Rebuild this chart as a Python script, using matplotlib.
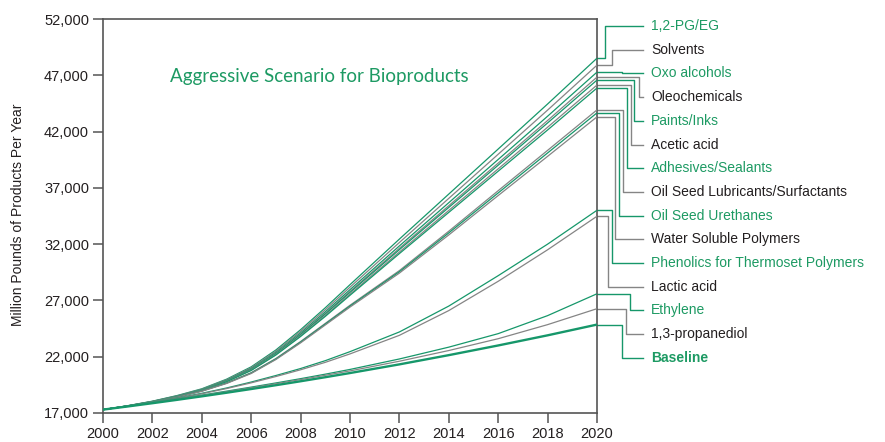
import matplotlib
matplotlib.use("Agg")
import matplotlib.pyplot as plt

years = [2000, 2001, 2002, 2003, 2004, 2005, 2006, 2007, 2008, 2009, 2010, 2012, 2014, 2016, 2018, 2020]

pg_eg = [17300, 17650, 18050, 18550, 19150, 20000, 21100, 22600, 24400, 26350, 28400, 32450, 36450, 40450, 44450, 48519]
solvents = [17300, 17643, 18035, 18525, 19113, 19946, 21024, 22494, 24258, 26169, 28178, 32147, 36067, 39987, 43907, 47900]
oxo = [17300, 17636, 18020, 18500, 19076, 19892, 20948, 22388, 24116, 25988, 27956, 31844, 35684, 39524, 43364, 47282]
oleo = [17300, 17631, 18010, 18483, 19050, 19854, 20895, 22314, 24017, 25861, 27801, 31632, 35416, 39200, 42984, 46840]
paints = [17300, 17628, 18004, 18473, 19035, 19833, 20864, 22271, 23960, 25789, 27712, 31511, 35263, 39015, 42767, 46575]
acetic = [17300, 17623, 17993, 18455, 19009, 19795, 20811, 22197, 23860, 25662, 27556, 31299, 34995, 38691, 42387, 46134]
adhesives = [17300, 17620, 17986, 18444, 18993, 19771, 20777, 22150, 23797, 25581, 27457, 31162, 34822, 38482, 42142, 45869]
lubricants = [17300, 17610, 17990, 18430, 18970, 19670, 20580, 21840, 23350, 24960, 26570, 29650, 33150, 36750, 40330, 43927]
urethanes = [17300, 17610, 17980, 18420, 18950, 19650, 20550, 21800, 23300, 24900, 26500, 29550, 33000, 36550, 40100, 43662]
water_sol = [17300, 17600, 17970, 18400, 18930, 19620, 20510, 21750, 23230, 24820, 26410, 29430, 32820, 36320, 39800, 43309]
phenolics = [17300, 17620, 17960, 18330, 18750, 19220, 19750, 20330, 20950, 21650, 22450, 24200, 26500, 29200, 32000, 35009]
lactic = [17300, 17610, 17940, 18300, 18710, 19170, 19680, 20240, 20840, 21500, 22250, 23900, 26100, 28700, 31500, 34479]
ethylene = [17300, 17600, 17920, 18250, 18590, 18940, 19300, 19670, 20050, 20450, 20870, 21800, 22850, 24050, 25650, 27592]
propanediol = [17300, 17590, 17900, 18220, 18550, 18890, 19240, 19600, 19970, 20350, 20740, 21600, 22550, 23600, 24850, 26267]
baseline = [17300, 17580, 17870, 18170, 18480, 18800, 19130, 19470, 19820, 20180, 20550, 21320, 22140, 23000, 23900, 24855]

names = ["1,2-PG/EG", "Solvents", "Oxo alcohols", "Oleochemicals", "Paints/Inks", "Acetic acid",
         "Adhesives/Sealants", "Oil Seed Lubricants/Surfactants", "Oil Seed Urethanes",
         "Water Soluble Polymers", "Phenolics for Thermoset Polymers", "Lactic acid",
         "Ethylene", "1,3-propanediol", "Baseline"]
series = [pg_eg, solvents, oxo, oleo, paints, acetic, adhesives, lubricants, urethanes,
          water_sol, phenolics, lactic, ethylene, propanediol, baseline]

yticks = [17000, 22000, 27000, 32000, 37000, 42000, 47000, 52000]
xticks = list(range(2000, 2021, 2))

green = "#16976a"
gray = "#858585"
text_green = "#1d9a63"
text_dark = "#231f20"

# x (in years past 2020) of the vertical part of each leader line
leader_x = [0.32, 0.61, 1.0, 1.70, 1.50, 1.38, 1.21, 1.05, 0.89, 0.73, 0.61, 0.45, 1.34, 1.17, 1.01]

plt.rcParams['font.family'] = ['Liberation Sans', 'DejaVu Sans']
fig = plt.figure(figsize=(8.85, 4.42), dpi=100)
ax = fig.add_axes([103 / 885, 29 / 442, 494 / 885, 394 / 442])

for i, vals in enumerate(series):
    col = green if i % 2 == 0 else gray
    lw = 1.7 if i == len(series) - 1 else 0.9
    ax.plot(years, vals, color=col, lw=lw, solid_capstyle='butt', zorder=3)

ax.set_xlim(2000, 2020)
ax.set_ylim(17000, 52000)
ax.set_xticks(xticks)
ax.set_yticks(yticks)
ax.set_yticklabels(["{:,}".format(v) for v in yticks])
ax.tick_params(direction='out', length=7, width=1.1, color="#555555", labelsize=10.5,
               labelcolor=text_dark, pad=3)
for s in ax.spines.values():
    s.set_color("#555555")
    s.set_linewidth(1.2)

# leader lines to the labels on the right
x_end = 1.86
x_text = 2.19
for i, vals in enumerate(series):
    col = green if i % 2 == 0 else gray
    tcol = text_green if i % 2 == 0 else text_dark
    frac = (413 - (26 + i * 23.7)) / 394
    ly = 17000 + frac * 35000
    lx = 2020 + leader_x[i]
    ax.plot([2020, lx, lx, 2020 + x_end], [vals[-1], vals[-1], ly, ly], color=col, lw=1.0,
            clip_on=False, zorder=2)
    ax.text(2020 + x_text, ly, names[i], color=tcol, fontsize=10, va='center', ha='left',
            fontweight='bold' if i == len(series) - 1 else 'normal')

ax.text(0.136, 0.853, "Aggressive Scenario for Bioproducts", transform=ax.transAxes,
        color=text_green, fontsize=13.5, va='center', ha='left', family='Lato')
fig.text(18 / 885, 0.514, "Million Pounds of Products Per Year", rotation=90,
         va='center', ha='center', fontsize=10, color=text_dark)

fig.savefig("out.png", dpi=100)
